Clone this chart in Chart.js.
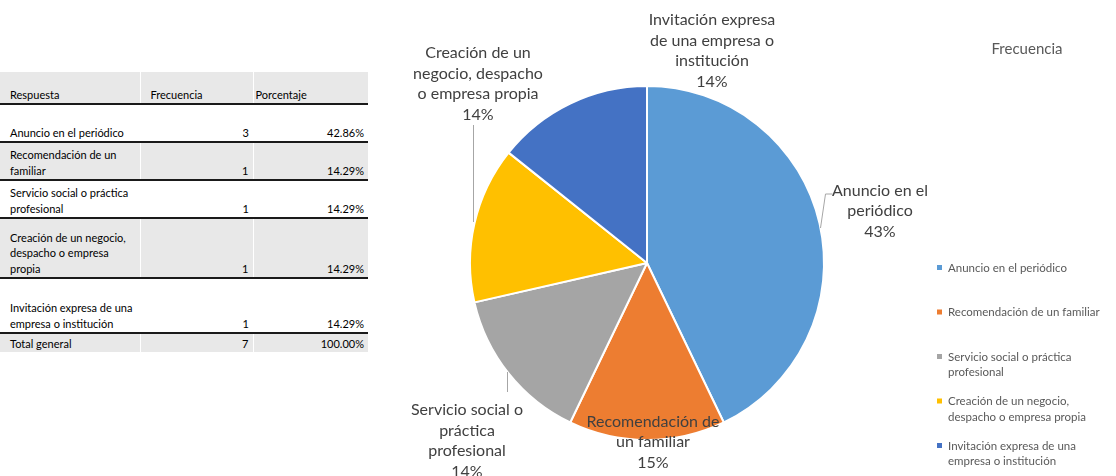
<!DOCTYPE html>
<html>
<head>
<meta charset="utf-8">
<script src="https://cdn.jsdelivr.net/npm/chart.js@4"></script>
<style>
  body { margin: 0; background: #fff; width: 1116px; height: 476px; overflow: hidden; position: relative; font-family: Lato, "Open Sans", sans-serif; }
  #tabla { position: absolute; left: 0; top: 72px; width: 368px; border-collapse: collapse; table-layout: fixed; font-size: 11px; color: #000; }
  #tabla td { padding: 0 3px 1px 10px; vertical-align: bottom; line-height: 15.5px; border-bottom: 2px solid #1a1a1a; overflow: hidden; white-space: normal; }
  #tabla td.num { text-align: right; padding: 0 4px 1px 0; }
  #tabla tr.gris td { background: #e8e8e8; border-left: 1px solid #fff; }
  #tabla tr.gris td:first-child { border-left: none; }
  #tabla tr:last-child td { border-bottom: none; }
  #grafico { position: absolute; left: 370px; top: 0; width: 746px; height: 476px; }
</style>
</head>
<body>
<table id="tabla"></table>
<div id="grafico"><canvas id="myChart"></canvas></div>
<script>
const categories = [
  "Anuncio en el periódico",
  "Recomendación de un familiar",
  "Servicio social o práctica profesional",
  "Creación de un negocio, despacho o empresa propia",
  "Invitación expresa de una empresa o institución",
];
const frequencies = [3, 1, 1, 1, 1];
const percentages = ["42.86%", "14.29%", "14.29%", "14.29%", "14.29%"];
const totalFrequency = 7;
const totalPercentage = "100.00%";
const sliceLabels = ["43%", "15%", "14%", "14%", "14%"];
const colors = ["#5B9BD5", "#ED7D31", "#A5A5A5", "#FFC000", "#4472C4"];

// tabla de la izquierda
const rowHeights = [38, 38, 38, 60, 55];
const tabla = document.querySelector("#tabla");
let html = '<colgroup><col style="width:140px"><col style="width:113px"><col style="width:115px"></colgroup>';
html += '<tr class="gris" style="height:32px"><td>Respuesta</td><td>Frecuencia</td><td style="padding-left:2px">Porcentaje</td></tr>';
categories.forEach((c, i) => {
  html += '<tr class="' + (i % 2 ? "gris" : "") + '" style="height:' + rowHeights[i] + 'px"><td>' + c +
    '</td><td class="num">' + frequencies[i] + '</td><td class="num">' + percentages[i] + "</td></tr>";
});
html += '<tr class="gris" style="height:19px"><td>Total general</td><td class="num">' + totalFrequency +
  '</td><td class="num">' + totalPercentage + "</td></tr>";
tabla.innerHTML = html;

// cortes de línea (número de palabras por línea)
const labelBreaks = [[3, 1], [2, 2], [3, 1, 1], [3, 2, 3], [2, 4, 1]];
const legendBreaks = [[4], [5], [4, 1], [4, 4], [4, 3]];
// posición de cada etiqueta respecto al centro del pastel
const labelOffsets = [[233, -52], [6, 179], [-180, 178], [-169, -179], [65, -212]];
const leaderLines = [
  [[185, -69], [178, -69], [173, -35]],
  null,
  [[-140, 109], [-140, 129]],
  [[-174, -138], [-174, -41]],
  null,
];

function splitWords(text, breaks) {
  const words = text.split(" ");
  const lines = [];
  let k = 0;
  breaks.forEach((n) => { lines.push(words.slice(k, k + n).join(" ")); k += n; });
  return lines;
}

const extras = {
  id: "extras",
  afterDraw(chart) {
    const c = chart.ctx;
    const arc = chart.getDatasetMeta(0).data[0];
    const cx = arc.x, cy = arc.y;
    c.save();
    // líneas guía
    c.strokeStyle = "#A6A6A6";
    c.lineWidth = 1;
    leaderLines.forEach((pts) => {
      if (!pts) return;
      c.beginPath();
      pts.forEach((p, j) => {
        const x = Math.round(cx + p[0]) + 0.5, y = cy + p[1];
        j ? c.lineTo(x, y) : c.moveTo(x, y);
      });
      c.stroke();
    });
    // etiquetas de datos
    c.fillStyle = "#404040";
    c.font = "16px Lato";
    c.textAlign = "center";
    c.textBaseline = "middle";
    const lh = 20.5;
    categories.forEach((cat, i) => {
      const lines = splitWords(cat, labelBreaks[i]).concat([sliceLabels[i]]);
      const x = cx + labelOffsets[i][0];
      const y0 = cy + labelOffsets[i][1] - (lines.length - 1) * lh / 2;
      lines.forEach((l, j) => c.fillText(l, x, y0 + j * lh));
    });
    // título
    c.fillStyle = "#595959";
    c.font = "15px Lato";
    c.fillText("Frecuencia", 657, 49);
    // leyenda
    c.font = "11.5px Lato";
    c.textAlign = "left";
    categories.forEach((cat, i) => {
      const y = 268 + i * 44.5;
      c.fillStyle = colors[i];
      c.fillRect(567, y - 3, 5, 5);
      c.fillStyle = "#595959";
      splitWords(cat, legendBreaks[i]).forEach((l, j) => c.fillText(l, 578, y + j * 15.5));
    });
    c.restore();
  },
};

const ctx = document.querySelector("#myChart");
const myChart = new Chart(ctx, {
  type: "pie",
  data: {
    labels: categories,
    datasets: [
      {
        data: frequencies,
        backgroundColor: colors,
        borderColor: "#ffffff",
        borderWidth: 2,
      },
    ],
  },
  options: {
    responsive: true,
    maintainAspectRatio: false,
    layout: { padding: { left: 99, right: 291, top: 85, bottom: 35 } },
    plugins: {
      legend: false,
      tooltip: { enabled: false },
    },
    animation: { duration: 0 },
  },
  plugins: [extras],
});
</script>
</body>
</html>
